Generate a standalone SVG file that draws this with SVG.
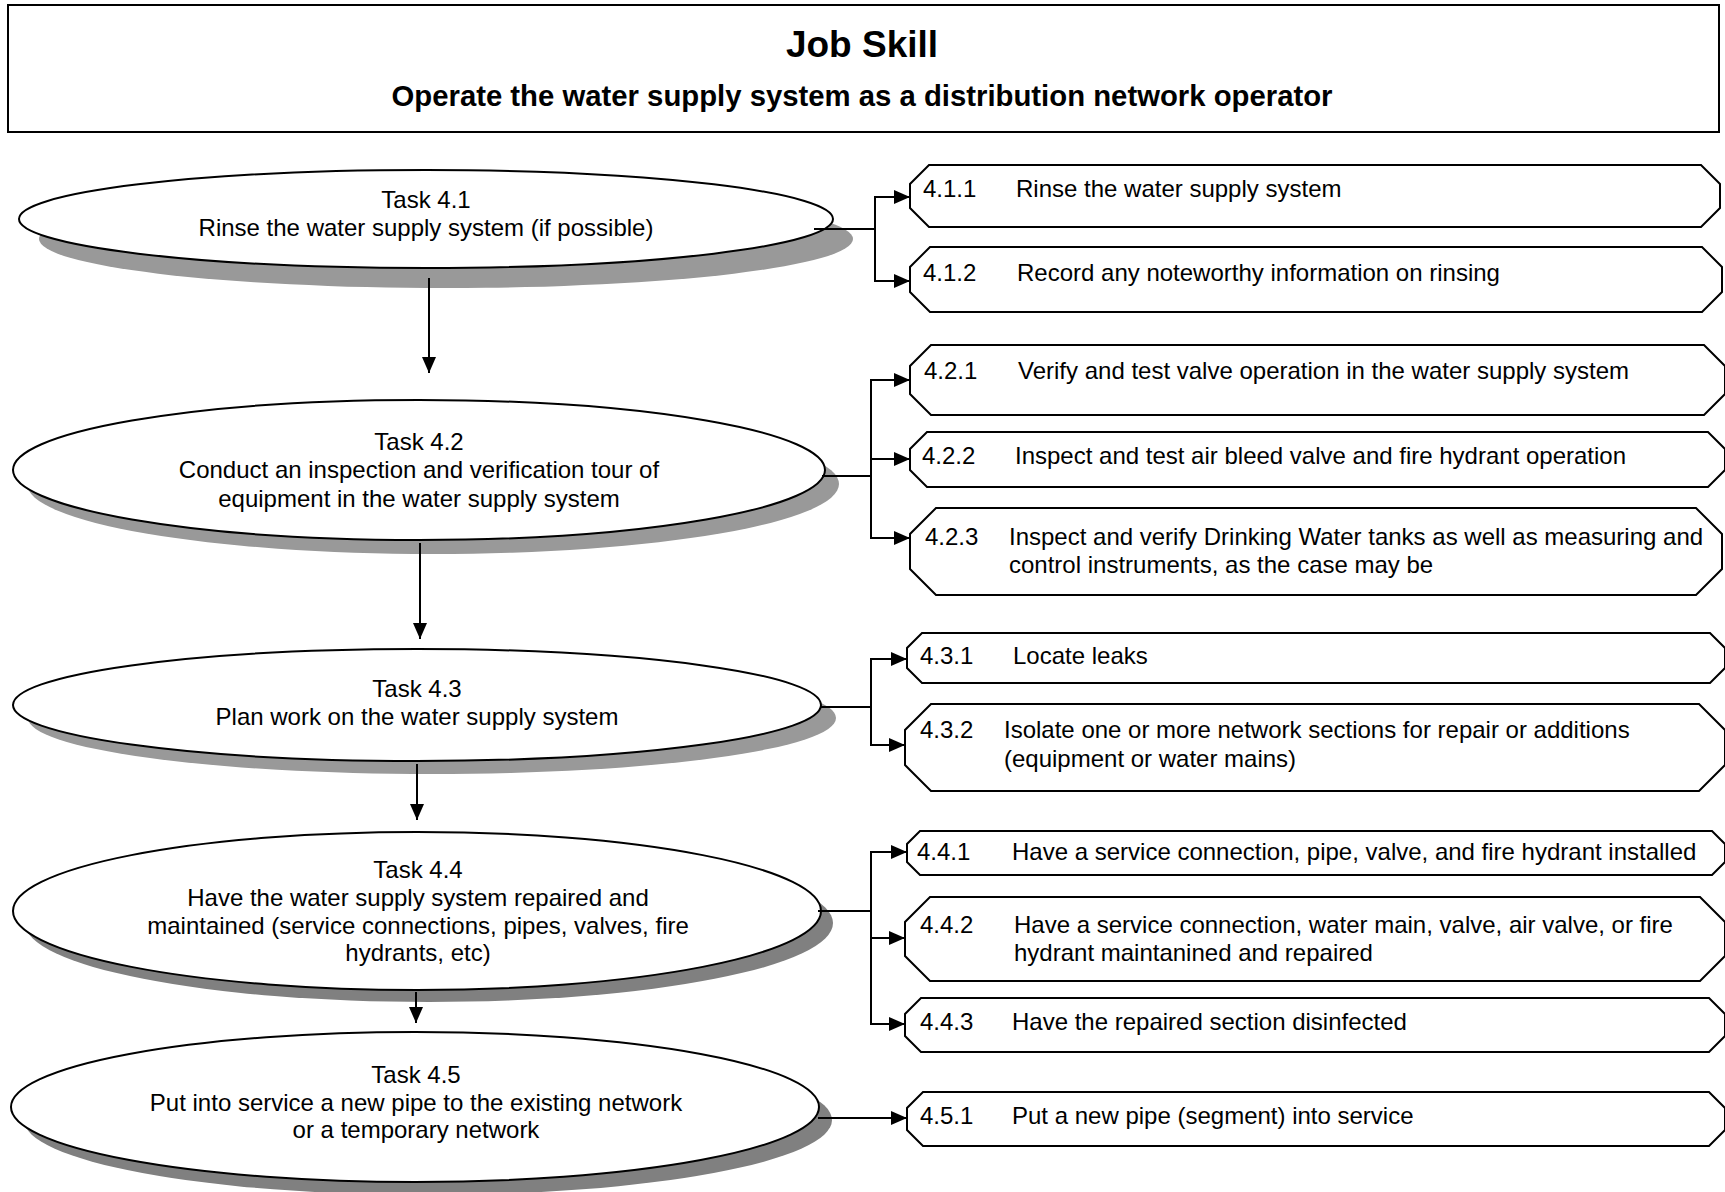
<svg xmlns="http://www.w3.org/2000/svg" width="1725" height="1192" viewBox="0 0 1725 1192">
<defs>
<style>
.t{font-family:"Liberation Sans",Arial,sans-serif;font-size:24px;fill:#000}
.c{text-anchor:middle}
.h1{font-family:"Liberation Sans",Arial,sans-serif;font-weight:bold;font-size:37px;text-anchor:middle}
.h2{font-family:"Liberation Sans",Arial,sans-serif;font-weight:bold;font-size:29.3px;text-anchor:middle}
.el{fill:#fff;stroke:#000;stroke-width:2}
.sh1{fill:#999}
.sh2{fill:#808080}
.bx{fill:#fff;stroke:#000;stroke-width:2}
.ln{fill:none;stroke:#000;stroke-width:2}
.ar{fill:none;stroke:#000;stroke-width:2;marker-end:url(#ah)}
</style>
<marker id="ah" markerUnits="userSpaceOnUse" markerWidth="16" markerHeight="14" refX="16" refY="7" orient="auto">
<path d="M0,0 L16,7 L0,14 z" fill="#000"/>
</marker>
</defs>
<rect width="1725" height="1192" fill="#fff"/>
<g id="title">
<rect x="8" y="5" width="1711" height="127" fill="#fff" stroke="#000" stroke-width="2"/>
<text class="h1" x="862" y="57">Job Skill</text>
<text class="h2" x="862" y="106">Operate the water supply system as a distribution network operator</text>
</g>

<g id="task41">
<ellipse class="sh1" cx="446" cy="239" rx="407" ry="49"/>
<ellipse class="el" cx="426" cy="219" rx="407" ry="49"/>
<text class="t c" x="426" y="208">Task 4.1</text>
<text class="t c" x="426" y="236">Rinse the water supply system (if possible)</text>
</g>
<g id="task42">
<ellipse class="sh1" cx="433" cy="484" rx="406" ry="70"/>
<ellipse class="el" cx="419" cy="470" rx="406" ry="70"/>
<text class="t c" x="419" y="450">Task 4.2</text>
<text class="t c" x="419" y="478">Conduct an inspection and verification tour of</text>
<text class="t c" x="419" y="507">equipment in the water supply system</text>
</g>
<g id="task43">
<ellipse class="sh1" cx="432" cy="718" rx="404" ry="56"/>
<ellipse class="el" cx="417" cy="705" rx="404" ry="56"/>
<text class="t c" x="417" y="697">Task 4.3</text>
<text class="t c" x="417" y="725">Plan work on the water supply system</text>
</g>
<g id="task44">
<ellipse class="sh2" cx="429" cy="923" rx="404" ry="79"/>
<ellipse class="el" cx="417" cy="911" rx="404" ry="79"/>
<text class="t c" x="418" y="878">Task 4.4</text>
<text class="t c" x="418" y="906">Have the water supply system repaired and</text>
<text class="t c" x="418" y="934">maintained (service connections, pipes, valves, fire</text>
<text class="t c" x="418" y="961">hydrants, etc)</text>
</g>
<g id="task45">
<ellipse class="sh2" cx="428" cy="1120" rx="404" ry="75"/>
<ellipse class="el" cx="415" cy="1107" rx="404" ry="75"/>
<text class="t c" x="416" y="1083">Task 4.5</text>
<text class="t c" x="416" y="1111">Put into service a new pipe to the existing network</text>
<text class="t c" x="416" y="1138">or a temporary network</text>
</g>

<g id="s411">
<polygon class="bx" points="929,165 1701,165 1720,184 1720,208 1701,227 929,227 910,208 910,184"/>
<text class="t" x="923" y="197">4.1.1</text><text class="t" x="1016" y="197">Rinse the water supply system</text>
</g>
<g id="s412">
<polygon class="bx" points="930,247 1702,247 1722,267 1722,292 1702,312 930,312 910,292 910,267"/>
<text class="t" x="923" y="281">4.1.2</text><text class="t" x="1017" y="281">Record any noteworthy information on rinsing</text>
</g>
<g id="s421">
<polygon class="bx" points="931,345 1704,345 1725,366 1725,394 1704,415 931,415 910,394 910,366"/>
<text class="t" x="924" y="379">4.2.1</text><text class="t" x="1018" y="379">Verify and test valve operation in the water supply system</text>
</g>
<g id="s422">
<polygon class="bx" points="927,432 1708,432 1725,449 1725,470 1708,487 927,487 910,470 910,449"/>
<text class="t" x="922" y="464">4.2.2</text><text class="t" x="1015" y="464">Inspect and test air bleed valve and fire hydrant operation</text>
</g>
<g id="s423">
<polygon class="bx" points="936,508 1696,508 1722,534 1722,569 1696,595 936,595 910,569 910,534"/>
<text class="t" x="925" y="545">4.2.3</text><text class="t" x="1009" y="545">Inspect and verify Drinking Water tanks as well as measuring and</text>
<text class="t" x="1009" y="573">control instruments, as the case may be</text>
</g>
<g id="s431">
<polygon class="bx" points="922,633 1710,633 1725,648 1725,668 1710,683 922,683 907,668 907,648"/>
<text class="t" x="920" y="664">4.3.1</text><text class="t" x="1013" y="664">Locate leaks</text>
</g>
<g id="s432">
<polygon class="bx" points="931,704 1699,704 1725,730 1725,765 1699,791 931,791 905,765 905,730"/>
<text class="t" x="920" y="738">4.3.2</text><text class="t" x="1004" y="738">Isolate one or more network sections for repair or additions</text>
<text class="t" x="1004" y="767">(equipment or water mains)</text>
</g>
<g id="s441">
<polygon class="bx" points="920,831 1712,831 1725,844 1725,862 1712,875 920,875 907,862 907,844"/>
<text class="t" x="917" y="860">4.4.1</text><text class="t" x="1012" y="860">Have a service connection, pipe, valve, and fire hydrant installed</text>
</g>
<g id="s442">
<polygon class="bx" points="930,897 1700,897 1725,922 1725,956 1700,981 930,981 905,956 905,922"/>
<text class="t" x="920" y="933">4.4.2</text><text class="t" x="1014" y="933">Have a service connection, water main, valve, air valve, or fire</text>
<text class="t" x="1014" y="961">hydrant maintanined and repaired</text>
</g>
<g id="s443">
<polygon class="bx" points="921,998 1709,998 1725,1014 1725,1036 1709,1052 921,1052 905,1036 905,1014"/>
<text class="t" x="920" y="1030">4.4.3</text><text class="t" x="1012" y="1030">Have the repaired section disinfected</text>
</g>
<g id="s451">
<polygon class="bx" points="923,1092 1709,1092 1725,1108 1725,1130 1709,1146 923,1146 907,1130 907,1108"/>
<text class="t" x="920" y="1124">4.5.1</text><text class="t" x="1012" y="1124">Put a new pipe (segment) into service</text>
</g>

<g id="connectors">
<line class="ar" x1="429" y1="278" x2="429" y2="373"/>
<line class="ar" x1="420" y1="543" x2="420" y2="639"/>
<line class="ar" x1="417" y1="764" x2="417" y2="820"/>
<line class="ar" x1="416" y1="992" x2="416" y2="1023"/>

<polyline class="ln" points="814,229 875,229"/>
<polyline class="ln" points="875,197 875,281"/>
<line class="ar" x1="874" y1="197" x2="910" y2="197"/>
<line class="ar" x1="874" y1="281" x2="910" y2="281"/>

<polyline class="ln" points="822,476 871,476"/>
<polyline class="ln" points="871,380 871,538"/>
<line class="ar" x1="870" y1="380" x2="910" y2="380"/>
<line class="ar" x1="870" y1="459" x2="910" y2="459"/>
<line class="ar" x1="870" y1="538" x2="910" y2="538"/>

<polyline class="ln" points="820,707 871,707"/>
<polyline class="ln" points="871,659 871,745"/>
<line class="ar" x1="870" y1="659" x2="907" y2="659"/>
<line class="ar" x1="870" y1="745" x2="905" y2="745"/>

<polyline class="ln" points="818,911 871,911"/>
<polyline class="ln" points="871,852 871,1024"/>
<line class="ar" x1="870" y1="852" x2="907" y2="852"/>
<line class="ar" x1="870" y1="938" x2="905" y2="938"/>
<line class="ar" x1="870" y1="1024" x2="905" y2="1024"/>

<line class="ar" x1="818" y1="1118" x2="907" y2="1118"/>
</g>
</svg>
